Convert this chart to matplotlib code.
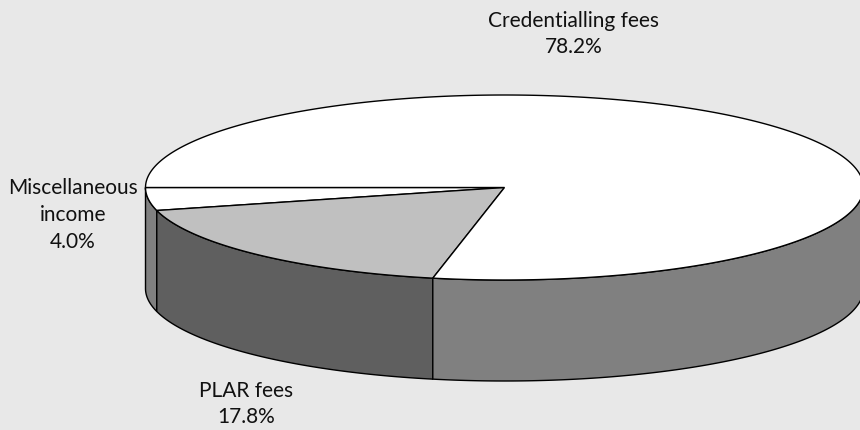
import numpy as np
import matplotlib.pyplot as plt
from matplotlib.patches import Polygon

# slices in drawing order, going round from the left edge of the pie
labels = ["Miscellaneous\nincome\n4.0%", "PLAR fees\n17.8%", "Credentialling fees\n78.2%"]
shares = [4.0, 17.8, 78.2]
top_colors = ["#ffffff", "#c0c0c0", "#ffffff"]
side_colors = ["#808080", "#5f5f5f", "#808080"]

cx, cy = 504.5, 188.5
rx, ry = 359, 92.5
depth = 101


def rim(a, b):
    # points on the ellipse between two angles, y axis points down so 90 is the front
    t = np.radians(np.linspace(a, b, 300))
    return np.column_stack([cx + rx * np.cos(t), cy + ry * np.sin(t)])


plt.rcParams["font.family"] = ["Lato", "DejaVu Sans"]

fig = plt.figure(figsize=(8.6, 4.31), dpi=100, facecolor="#e8e8e8")
ax = fig.add_axes([0, 0, 1, 1])
ax.set_xlim(0, 860)
ax.set_ylim(431, 0)
ax.axis("off")

start = 180.0
for share, top_c, side_c in zip(shares, top_colors, side_colors):
    end = start - share * 3.6
    # outer wall, only the front half of the rim shows
    if max(end, 0) < start:
        edge = rim(start, max(end, 0))
        wall = np.vstack([edge, (edge + [0, depth])[::-1]])
        ax.add_patch(Polygon(wall, closed=True, facecolor=side_c, edgecolor="black", lw=1.0, zorder=2))
    wedge = np.vstack([[cx, cy], rim(start, end)])
    ax.add_patch(Polygon(wedge, closed=True, facecolor=top_c, edgecolor="black", lw=1.0, zorder=3))
    start = end

ax.text(73, 215, labels[0], ha="center", va="center", fontsize=15, color="#111111", linespacing=1.42)
ax.text(246, 404, labels[1], ha="center", va="center", fontsize=15, color="#111111", linespacing=1.42)
ax.text(574, 34, labels[2], ha="center", va="center", fontsize=15, color="#111111", linespacing=1.42)

fig.savefig("out.png", dpi=100, facecolor=fig.get_facecolor())
